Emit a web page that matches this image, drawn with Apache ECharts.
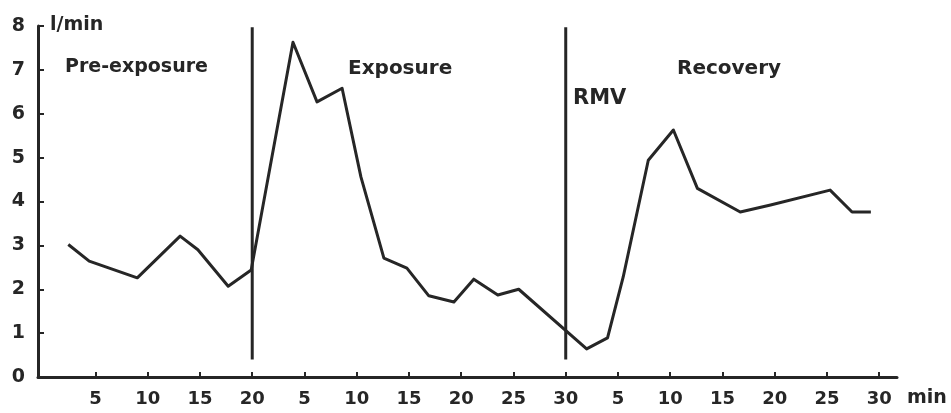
<!DOCTYPE html>
<html>
<head>
<meta charset="utf-8">
<style>
  html, body { margin: 0; padding: 0; background: #ffffff; }
  #chart { width: 951px; height: 413px; }
</style>
<script src="https://cdn.jsdelivr.net/npm/echarts@6/dist/echarts.min.js"></script>
</head>
<body>
<div id="chart"></div>
<script>
// Respiratory minute volume (l/min) over the three test phases.
// Time runs continuously: 0-20 pre-exposure, 20-50 exposure, 50-80 recovery.
const minutes = [2.4, 4.4, 9.0, 13.1, 14.8, 17.7, 19.9, 23.9, 26.2, 28.6, 30.4, 32.6, 34.8, 36.9,
                 39.3, 41.2, 43.5, 45.5, 52.0, 54.0, 55.5, 57.9, 60.3, 62.6, 66.7, 69.6, 75.3, 77.4, 79.2];
const rmv     = [3.02, 2.64, 2.26, 3.21, 2.9, 2.07, 2.44, 7.63, 6.27, 6.58, 4.56, 2.71, 2.48, 1.85,
                 1.71, 2.23, 1.87, 2.0, 0.64, 0.89, 2.28, 4.94, 5.63, 4.3, 3.76, 3.92, 4.26, 3.76, 3.76];

// Phase boundaries (minutes) and the vertical extent of the divider lines (l/min)
const phaseBoundaries = [20, 50];
const dividerSpan = [0.4, 7.97];

// Tick positions on the continuous time axis; labels restart at each phase
const timeTicks = [5, 10, 15, 20, 25, 30, 35, 40, 45, 50, 55, 60, 65, 70, 75, 80];
const phaseStarts = [0, 20, 50];
const yTicks = [0, 1, 2, 3, 4, 5, 6, 7, 8];

const ink = '#262626';
const font = 'DejaVu Sans';

function phaseLabel(v) {
  let start = 0;
  for (const s of phaseStarts) if (v > s) start = s;
  return String(Math.round(v - start));
}

const series = [{
  type: 'line',
  data: minutes.map((m, i) => [m, rmv[i]]),
  symbol: 'none',
  lineStyle: { color: ink, width: 3, join: 'round' },
  z: 3
}];
phaseBoundaries.forEach(b => {
  series.push({
    type: 'line',
    data: dividerSpan.map(v => [b, v]),
    symbol: 'none',
    lineStyle: { color: ink, width: 3 },
    z: 2
  });
});

const chart = echarts.init(document.getElementById('chart'), null, { renderer: 'canvas' });
chart.setOption({
  animation: false,
  backgroundColor: '#ffffff',
  grid: { left: 38, right: 54, top: 26, bottom: 36, containLabel: false },
  xAxis: {
    type: 'value',
    min: -0.5,
    max: 81.7,
    splitLine: { show: false },
    axisLine: { onZero: false, lineStyle: { color: ink, width: 3 } },
    axisTick: { inside: true, length: 5, customValues: timeTicks, lineStyle: { color: ink, width: 2 } },
    axisLabel: {
      customValues: timeTicks,
      formatter: phaseLabel,
      color: ink, fontFamily: font, fontWeight: 'bold', fontSize: 18, margin: 13
    }
  },
  yAxis: {
    type: 'value',
    min: 0,
    max: 8,
    interval: 1,
    splitLine: { show: false },
    axisLine: { onZero: false, lineStyle: { color: ink, width: 3 } },
    axisTick: { inside: true, length: 6, lineStyle: { color: ink, width: 2 } },
    axisLabel: {
      customValues: yTicks,
      color: ink, fontFamily: font, fontWeight: 'bold', fontSize: 19, margin: 13
    }
  },
  series: series,
  graphic: [
    { type: 'text', left: 50, top: 16, style: { text: 'l/min', fill: ink, font: 'bold 19px DejaVu Sans' } },
    { type: 'text', left: 65, top: 58, style: { text: 'Pre-exposure', fill: ink, font: 'bold 19px DejaVu Sans' } },
    { type: 'text', left: 348, top: 59, style: { text: 'Exposure', fill: ink, font: 'bold 20px DejaVu Sans' } },
    { type: 'text', left: 573, top: 88, style: { text: 'RMV', fill: ink, font: 'bold 21px DejaVu Sans' } },
    { type: 'text', left: 677, top: 59, style: { text: 'Recovery', fill: ink, font: 'bold 20px DejaVu Sans' } },
    { type: 'text', left: 907, top: 389, style: { text: 'min', fill: ink, font: 'bold 19px DejaVu Sans' } }
  ]
});
</script>
</body>
</html>
